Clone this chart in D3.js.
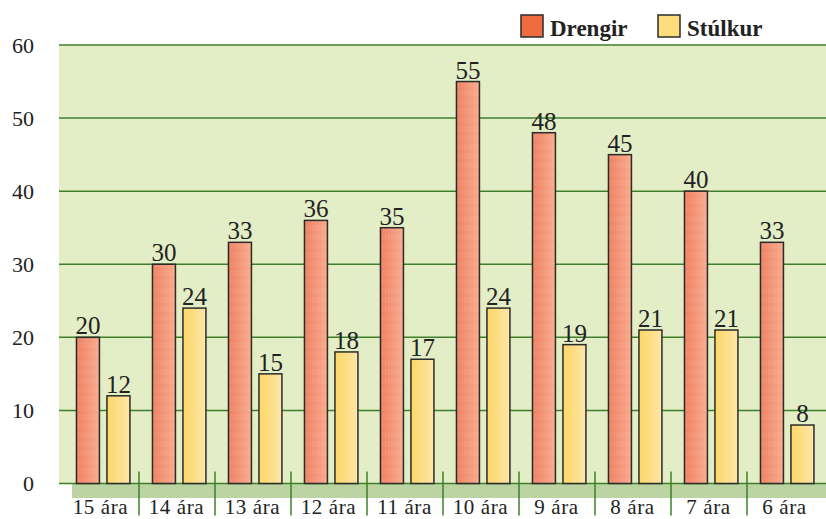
<!DOCTYPE html>
<html lang="is">
<head>
<meta charset="utf-8">
<title>Drengir og stúlkur</title>
<script src="https://d3js.org/d3.v7.min.js"></script>
<style>
  body { margin: 0; background: #fff; }
  svg text { font-family: "Liberation Serif", "DejaVu Serif", serif; fill: #222; }
</style>
</head>
<body>
<script>
// data
var categories = ["15 ára", "14 ára", "13 ára", "12 ára", "11 ára", "10 ára", "9 ára", "8 ára", "7 ára", "6 ára"];
var series = ["Drengir", "Stúlkur"];
var drengir = [20, 30, 33, 36, 35, 55, 48, 45, 40, 33];
var stulkur = [12, 24, 15, 18, 17, 24, 19, 21, 21, 8];
var yTicks = [0, 10, 20, 30, 40, 50, 60];

var values = { "Drengir": drengir, "Stúlkur": stulkur };
var rows = categories.map(function(c, i) {
  return { cat: c, vals: series.map(function(s) { return { key: s, value: values[s][i] }; }) };
});

var W = 826, H = 519;
var serif = "'Liberation Serif', 'DejaVu Serif', serif";
var svg = d3.select("body").append("svg").attr("width", W).attr("height", H);

var defs = svg.append("defs");
function grad(id, c1, c2) {
  var g = defs.append("linearGradient").attr("id", id).attr("x1", 0).attr("x2", 1).attr("y1", 0).attr("y2", 0);
  g.append("stop").attr("offset", "0%").attr("stop-color", c1);
  g.append("stop").attr("offset", "100%").attr("stop-color", c2);
}
grad("gD", "#ee8063", "#f9ab8c");
grad("gS", "#fdd665", "#fde6a8");
// fine vertical streaks on the boys' bars
var pat = defs.append("pattern").attr("id", "streak").attr("patternUnits", "userSpaceOnUse")
  .attr("width", 3).attr("height", 9);
pat.append("rect").attr("x", 1).attr("y", 0).attr("width", 0.7).attr("height", 6)
  .attr("fill", "#fff").attr("opacity", 0.18);

var y = d3.scaleLinear().domain([0, 60]).range([483.5, 45]);
var x0 = d3.scaleBand().domain(categories).range([62.5, 822.5]).paddingInner(0).paddingOuter(0);
var x1 = d3.scaleBand().domain(series).range([0, x0.bandwidth()])
  .paddingInner(0.246).paddingOuter(0.369).align(0.62);
var fills = { "Drengir": "url(#gD)", "Stúlkur": "url(#gS)" };

// plot background
svg.append("rect").attr("x", 59).attr("y", y(60)).attr("width", W - 59).attr("height", y(0) - y(60))
  .attr("fill", "#e4eec6");
// bottom band
svg.append("rect").attr("x", 72).attr("y", y(0)).attr("width", W - 72).attr("height", 14.5)
  .attr("fill", "#bcd4a2");

// gridlines
svg.append("g").selectAll("line").data(yTicks).join("line")
  .attr("x1", 59).attr("x2", W)
  .attr("y1", function(d) { return y(d); }).attr("y2", function(d) { return y(d); })
  .attr("stroke", "#3f7f2c").attr("stroke-width", 1.5);

// y axis labels
svg.append("g").selectAll("text").data(yTicks).join("text")
  .attr("x", 34).attr("y", function(d) { return y(d); }).attr("dy", "0.36em")
  .attr("text-anchor", "end").style("font-family", serif).style("font-size", "22px")
  .text(function(d) { return d; });

// category separators
svg.append("g").selectAll("line").data(categories.slice(1)).join("line")
  .attr("x1", function(d) { return x0(d) + 0.5; }).attr("x2", function(d) { return x0(d) + 0.5; })
  .attr("y1", 471.5).attr("y2", 515.5)
  .attr("stroke", "#3f7f2c").attr("stroke-width", 1.5);

// x labels
svg.append("g").selectAll("text").data(categories).join("text")
  .attr("x", function(d) { return x0(d) + x0.bandwidth() / 2; }).attr("y", 514)
  .attr("text-anchor", "middle").style("font-family", serif).style("font-size", "21px")
  .style("letter-spacing", "0.6px")
  .text(function(d) { return d; });

// bars
var grp = svg.append("g").selectAll("g").data(rows).join("g")
  .attr("transform", function(d) { return "translate(" + x0(d.cat) + ",0)"; });

grp.selectAll("rect.bar").data(function(d) { return d.vals; }).join("rect")
  .attr("class", "bar")
  .attr("x", function(d) { return x1(d.key); })
  .attr("y", function(d) { return y(d.value); })
  .attr("width", x1.bandwidth())
  .attr("height", function(d) { return y(0) - y(d.value); })
  .attr("fill", function(d) { return fills[d.key]; })
  .attr("stroke", "#2b2b2b").attr("stroke-width", 1.5);

grp.selectAll("rect.tex").data(function(d) { return d.vals.filter(function(v) { return v.key === "Drengir"; }); })
  .join("rect").attr("class", "tex")
  .attr("x", function(d) { return x1(d.key) + 1; })
  .attr("y", function(d) { return y(d.value) + 1; })
  .attr("width", x1.bandwidth() - 2)
  .attr("height", function(d) { return y(0) - y(d.value) - 2; })
  .attr("fill", "url(#streak)");

grp.selectAll("text").data(function(d) { return d.vals; }).join("text")
  .attr("x", function(d) { return x1(d.key) + x1.bandwidth() / 2; })
  .attr("y", function(d) { return y(d.value) - 3; })
  .attr("text-anchor", "middle").style("font-family", serif).style("font-size", "25px")
  .text(function(d) { return d.value; });

// legend
var legendX = [521, 658];
var legendFill = { "Drengir": "#ee6c40", "Stúlkur": "#fedd7c" };
var lg = svg.append("g").selectAll("g").data(series).join("g")
  .attr("transform", function(d, i) { return "translate(" + legendX[i] + ",15)"; });
lg.append("rect").attr("width", 22).attr("height", 22)
  .attr("fill", function(d) { return legendFill[d]; })
  .attr("stroke", "#2b2b2b").attr("stroke-width", 1.5);
lg.append("text").attr("x", 29).attr("y", 21)
  .style("font-family", serif).style("font-size", "23px").style("font-weight", "bold")
  .text(function(d) { return d; });
</script>
</body>
</html>
